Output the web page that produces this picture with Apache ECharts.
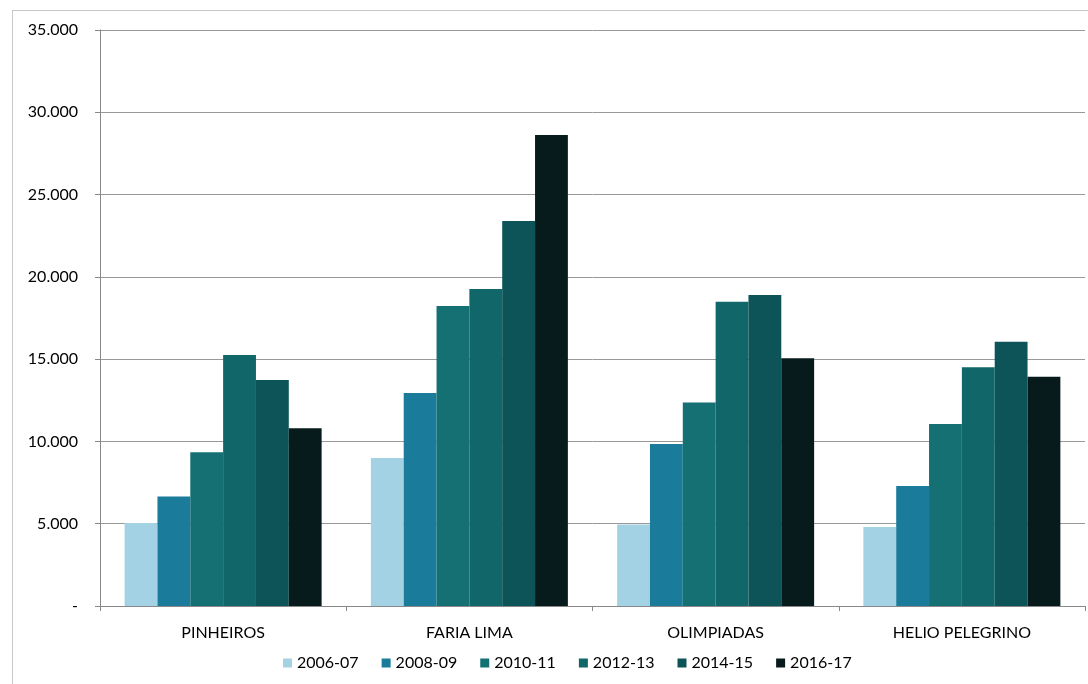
<!DOCTYPE html>
<html>
<head>
<meta charset="utf-8">
<script src="https://cdn.jsdelivr.net/npm/echarts@6/dist/echarts.min.js"></script>
<style>
  html, body { margin: 0; padding: 0; background: #fff; }
  #frame { position: absolute; left: 12px; top: 10px; width: 1090px; height: 690px; border: 1px solid #c8c8c8; box-sizing: border-box; }
  #chart { width: 1088px; height: 684px; }
</style>
</head>
<body>
<div id="frame"></div>
<div id="chart"></div>
<script>
// Regions (operações urbanas) on the category axis
const categories = ['PINHEIROS', 'FARIA LIMA', 'OLIMPIADAS', 'HELIO PELEGRINO'];

// One array per biennium, in category order
const s2006_07 = [5050, 9000, 4950, 4800];
const s2008_09 = [6650, 12940, 9850, 7290];
const s2010_11 = [9340, 18230, 12370, 11060];
const s2012_13 = [15250, 19260, 18490, 14500];
const s2014_15 = [13730, 23390, 18900, 16060];
const s2016_17 = [10800, 28620, 15050, 13930];

const seriesNames = ['2006-07', '2008-09', '2010-11', '2012-13', '2014-15', '2016-17'];
const seriesData = [s2006_07, s2008_09, s2010_11, s2012_13, s2014_15, s2016_17];
const seriesColors = ['#a3d2e4', '#1a7c9a', '#157073', '#116669', '#0c5457', '#071b1d'];

const yTicks = { min: 0, max: 35000, interval: 5000 };

function fmt(v) {
  if (v === 0) return '-';
  return String(v).replace(/\B(?=(\d{3})+(?!\d))/g, '.');
}

const chart = echarts.init(document.getElementById('chart'), null, { renderer: 'canvas' });
chart.setOption({
  animation: false,
  backgroundColor: 'transparent',
  textStyle: { fontFamily: 'Lato, "Open Sans", sans-serif' },
  grid: { left: 100, right: 3, top: 30, bottom: 78 },
  legend: {
    bottom: 8,
    left: 278,
    itemWidth: 9,
    itemHeight: 9,
    itemGap: 23,
    icon: 'rect',
    textStyle: { fontSize: 16, color: '#000', fontFamily: 'Lato, sans-serif' },
    data: seriesNames
  },
  xAxis: {
    type: 'category',
    data: categories,
    axisLine: { lineStyle: { color: '#888' } },
    axisTick: { show: true, length: 5, lineStyle: { color: '#888' } },
    axisLabel: { fontSize: 16, color: '#000', margin: 19 },
    splitLine: { show: false }
  },
  yAxis: {
    type: 'value',
    min: yTicks.min,
    max: yTicks.max,
    interval: yTicks.interval,
    axisLine: { show: true, lineStyle: { color: '#888' } },
    axisTick: { show: true, length: 5, lineStyle: { color: '#888' } },
    axisLabel: { fontSize: 16, color: '#000', margin: 22, formatter: fmt },
    splitLine: { lineStyle: { color: '#999', width: 1 } }
  },
  series: seriesNames.map((name, i) => ({
    name: name,
    type: 'bar',
    data: seriesData[i],
    barGap: '0%',
    barCategoryGap: '20%',
    itemStyle: { color: seriesColors[i] }
  }))
});
</script>
</body>
</html>
